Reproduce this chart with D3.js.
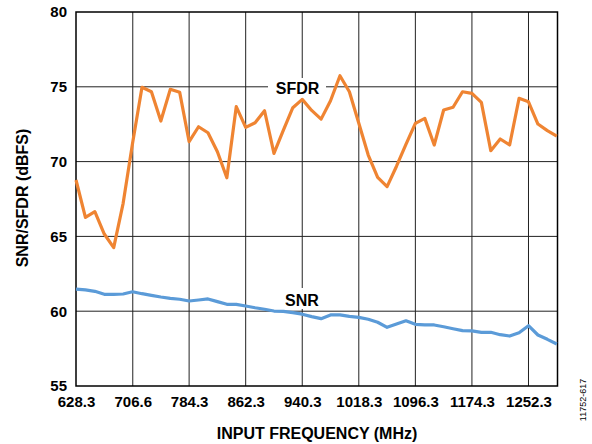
<!DOCTYPE html>
<html>
<head>
<meta charset="utf-8">
<script src="https://cdn.jsdelivr.net/npm/d3@7"></script>
<style>
  body { margin: 0; background: #fff; }
  text { font-family: "Liberation Sans", Arial, sans-serif; }
</style>
</head>
<body>
<svg id="chart" width="592" height="444"></svg>
<script>
// input frequency, 13 MHz steps
const freqs = d3.range(52).map(k => 628.3 + 13 * k);

const sfdr = [68.77, 66.27, 66.65, 65.16, 64.25, 67.21, 71.23, 74.97, 74.67, 72.71,
              74.83, 74.63, 71.33, 72.33, 71.93, 70.66, 68.92, 73.67, 72.29, 72.6,
              73.4, 70.55, 72.11, 73.6, 74.16, 73.42, 72.84, 74.07, 75.74, 74.67,
              72.56, 70.44, 68.95, 68.33, 69.69, 71.15, 72.56, 72.89, 71.11, 73.45,
              73.63, 74.67, 74.56, 73.96, 70.73, 71.51, 71.11, 74.23, 74.0, 72.51,
              72.07, 71.71];

const snr = [61.48, 61.42, 61.33, 61.13, 61.13, 61.15, 61.3, 61.17, 61.06, 60.95,
             60.86, 60.8, 60.68, 60.75, 60.82, 60.64, 60.46, 60.46, 60.35, 60.23,
             60.13, 60.01, 59.99, 59.9, 59.8, 59.64, 59.5, 59.75, 59.75, 59.65,
             59.59, 59.46, 59.26, 58.92, 59.14, 59.36, 59.12, 59.08, 59.08, 58.96,
             58.83, 58.7, 58.68, 58.59, 58.59, 58.43, 58.34, 58.56, 59.03, 58.41,
             58.12, 57.81];

const xTicks = [628.3, 706.6, 784.3, 862.3, 940.3, 1018.3, 1096.3, 1174.3, 1252.3];
const yTicks = [55, 60, 65, 70, 75, 80];

const svg = d3.select('#chart');
const plotL = 76, plotR = 557.5, plotT = 12, plotB = 386;

const x = d3.scaleLinear().domain([628.3, 1292.3]).range([plotL, plotR]);
const y = d3.scaleLinear().domain([55, 80]).range([plotB, plotT]);

// grid
svg.append('g')
    .selectAll('line')
    .data(xTicks.slice(1))
    .enter().append('line')
    .attr('x1', d => x(d)).attr('x2', d => x(d))
    .attr('y1', plotT).attr('y2', plotB)
    .attr('stroke', '#222').attr('stroke-width', 1);
svg.append('g')
    .selectAll('line')
    .data(yTicks.slice(1, -1))
    .enter().append('line')
    .attr('x1', plotL).attr('x2', plotR)
    .attr('y1', d => y(d)).attr('y2', d => y(d))
    .attr('stroke', '#222').attr('stroke-width', 1);

// label boxes hide gridlines
svg.append('rect').attr('x', 268).attr('y', 78).attr('width', 58).attr('height', 20).attr('fill', '#fff');
svg.append('rect').attr('x', 279).attr('y', 288).attr('width', 46).attr('height', 21).attr('fill', '#fff');

// frame
svg.append('rect')
    .attr('x', plotL).attr('y', plotT)
    .attr('width', plotR - plotL).attr('height', plotB - plotT)
    .attr('fill', 'none').attr('stroke', '#000').attr('stroke-width', 1.5);

// axes labels
const xAxis = d3.axisBottom(x).tickValues(xTicks).tickSize(0).tickPadding(10)
    .tickFormat(d => d.toFixed(1));
svg.append('g').attr('transform', `translate(0,${plotB})`).call(xAxis)
    .call(g => g.select('.domain').remove())
    .selectAll('text')
    .attr('font-size', 15).attr('font-weight', 'bold').attr('fill', '#000')
    .attr('font-family', '"Liberation Sans", Arial, sans-serif');

const yAxis = d3.axisLeft(y).tickValues(yTicks).tickSize(0).tickPadding(9);
svg.append('g').attr('transform', `translate(${plotL},0)`).call(yAxis)
    .call(g => g.select('.domain').remove())
    .selectAll('text')
    .attr('font-size', 15).attr('font-weight', 'bold').attr('fill', '#000')
    .attr('font-family', '"Liberation Sans", Arial, sans-serif');

// lines
const line = d3.line().x((d, i) => x(freqs[i])).y(d => y(d));
svg.append('path').datum(sfdr).attr('d', line)
    .attr('fill', 'none').attr('stroke', '#EF8432').attr('stroke-width', 3.2)
    .attr('stroke-linejoin', 'round');
svg.append('path').datum(snr).attr('d', line)
    .attr('fill', 'none').attr('stroke', '#5B9BD8').attr('stroke-width', 3.2)
    .attr('stroke-linejoin', 'round');

// series labels
svg.append('text').attr('x', 297.5).attr('y', 94).attr('text-anchor', 'middle')
    .attr('font-size', 16).attr('font-weight', 'bold').text('SFDR');
svg.append('text').attr('x', 302).attr('y', 306).attr('text-anchor', 'middle')
    .attr('font-size', 16).attr('font-weight', 'bold').text('SNR');

// titles
svg.append('text').attr('x', 317).attr('y', 439).attr('text-anchor', 'middle')
    .attr('font-size', 16).attr('font-weight', 'bold').text('INPUT FREQUENCY (MHz)');
svg.append('text').attr('transform', 'translate(28,198) rotate(-90)')
    .attr('text-anchor', 'middle')
    .attr('font-size', 16).attr('font-weight', 'bold').text('SNR/SFDR (dBFS)');
svg.append('text').attr('transform', 'translate(586,400) rotate(-90)')
    .attr('text-anchor', 'middle')
    .attr('font-size', 9).text('11752-617');
</script>
</body>
</html>
